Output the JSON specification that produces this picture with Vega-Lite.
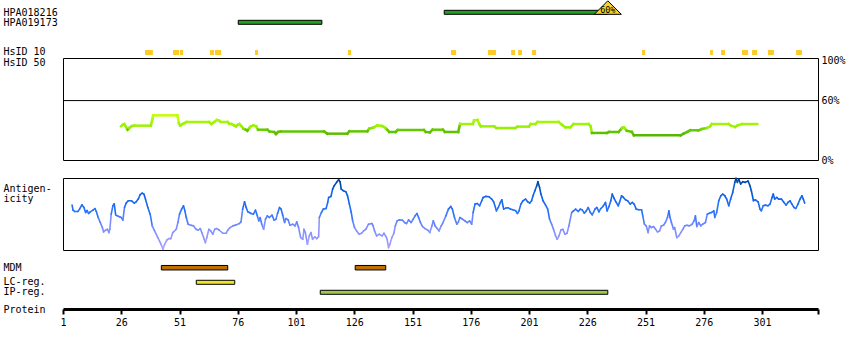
{
"$schema":"https://vega.github.io/schema/vega-lite/v6.json",
"padding":0,
"bounds":"full",
"spacing":11,
"config":{"view":{"stroke":null},"font":"DejaVu Sans Mono",
 "axis":{"labelFont":"DejaVu Sans Mono","labelFontSize":10,"labelColor":"black","titleFont":"DejaVu Sans Mono","titleFontSize":10,"titleFontWeight":"normal","titleColor":"black","grid":false},
 "axisY":{"ticks":false,"domain":false,"tickSize":0,"labelAlign":"left","labelPadding":60,"labelBaseline":"middle","minExtent":62,"maxExtent":62}},
"datasets":{
 "antibodies":[{"antibody":"HPA018216","start":164.6,"end":234.8},{"antibody":"HPA019173","start":76.2,"end":112.1}],
 "ab_marker":[{"antibody":"HPA018216","pos":234.8,"label":"60%"}],
 "hsid10":[{"track":"HsID 10","start":36.2,"end":39.6},{"track":"HsID 10","start":48.2,"end":50.8},{"track":"HsID 10","start":51.2,"end":52.5},{"track":"HsID 10","start":64.1,"end":65.8},{"track":"HsID 10","start":66.2,"end":68.8},{"track":"HsID 10","start":83.4,"end":84.7},{"track":"HsID 10","start":123.3,"end":124.6},{"track":"HsID 10","start":167.5,"end":169.7},{"track":"HsID 10","start":183.4,"end":186.8},{"track":"HsID 10","start":193.3,"end":195.0},{"track":"HsID 10","start":196.3,"end":198.0},{"track":"HsID 10","start":202.3,"end":204.0},{"track":"HsID 10","start":249.5,"end":250.8},{"track":"HsID 10","start":278.7,"end":279.9},{"track":"HsID 10","start":283.4,"end":285.1},{"track":"HsID 10","start":292.4,"end":295.0},{"track":"HsID 10","start":296.7,"end":298.9},{"track":"HsID 10","start":303.5,"end":306.1},{"track":"HsID 10","start":315.6,"end":318.1}],
 "ref60":[{"pct":60}],
 "hsid50":[{"pos":25.9,"pct":34.0},{"pos":26.7,"pct":35.7},{"pos":27.3,"pct":36.3},{"pos":27.9,"pct":34.0},{"pos":28.7,"pct":30.6},{"pos":29.4,"pct":32.3},{"pos":30.4,"pct":34.0},{"pos":31.6,"pct":34.7},{"pos":38.7,"pct":34.7},{"pos":39.3,"pct":40.7},{"pos":39.7,"pct":45.1},{"pos":50.1,"pct":45.1},{"pos":50.7,"pct":37.4},{"pos":51.3,"pct":34.7},{"pos":52.3,"pct":36.3},{"pos":53.3,"pct":37.4},{"pos":54.1,"pct":38.4},{"pos":63.7,"pct":38.4},{"pos":64.7,"pct":36.3},{"pos":65.9,"pct":38.4},{"pos":67.0,"pct":40.4},{"pos":68.0,"pct":39.7},{"pos":68.7,"pct":38.4},{"pos":71.6,"pct":38.4},{"pos":72.3,"pct":36.7},{"pos":73.3,"pct":36.3},{"pos":74.4,"pct":35.0},{"pos":75.3,"pct":34.0},{"pos":76.1,"pct":35.7},{"pos":76.7,"pct":36.3},{"pos":77.6,"pct":34.0},{"pos":78.4,"pct":31.6},{"pos":79.4,"pct":30.6},{"pos":80.1,"pct":29.6},{"pos":81.0,"pct":32.3},{"pos":81.6,"pct":34.0},{"pos":82.7,"pct":35.0},{"pos":83.9,"pct":34.0},{"pos":84.7,"pct":30.6},{"pos":88.7,"pct":30.6},{"pos":89.6,"pct":28.9},{"pos":91.6,"pct":28.3},{"pos":92.4,"pct":26.2},{"pos":93.3,"pct":28.3},{"pos":94.4,"pct":28.9},{"pos":113.0,"pct":28.9},{"pos":114.4,"pct":26.6},{"pos":123.0,"pct":26.6},{"pos":123.9,"pct":28.9},{"pos":131.6,"pct":28.9},{"pos":132.4,"pct":31.6},{"pos":134.4,"pct":33.0},{"pos":135.9,"pct":35.0},{"pos":138.0,"pct":34.3},{"pos":139.4,"pct":32.3},{"pos":140.1,"pct":30.6},{"pos":141.0,"pct":28.3},{"pos":143.7,"pct":28.3},{"pos":144.7,"pct":30.3},{"pos":155.9,"pct":30.3},{"pos":156.7,"pct":28.3},{"pos":158.4,"pct":27.9},{"pos":159.6,"pct":30.6},{"pos":164.0,"pct":30.6},{"pos":164.9,"pct":28.3},{"pos":170.6,"pct":28.3},{"pos":171.4,"pct":36.3},{"pos":176.9,"pct":36.3},{"pos":177.4,"pct":40.0},{"pos":178.9,"pct":40.4},{"pos":179.7,"pct":36.3},{"pos":180.3,"pct":34.0},{"pos":186.0,"pct":34.0},{"pos":186.9,"pct":32.3},{"pos":195.1,"pct":32.3},{"pos":196.0,"pct":33.7},{"pos":200.9,"pct":33.7},{"pos":201.7,"pct":36.3},{"pos":203.7,"pct":36.3},{"pos":204.6,"pct":38.4},{"pos":213.7,"pct":38.4},{"pos":215.1,"pct":35.7},{"pos":216.6,"pct":33.0},{"pos":218.7,"pct":33.0},{"pos":220.1,"pct":36.3},{"pos":226.6,"pct":36.3},{"pos":227.4,"pct":34.0},{"pos":228.0,"pct":27.3},{"pos":234.4,"pct":27.3},{"pos":235.4,"pct":28.3},{"pos":239.4,"pct":28.3},{"pos":240.3,"pct":30.6},{"pos":240.9,"pct":32.3},{"pos":241.7,"pct":33.0},{"pos":242.9,"pct":29.6},{"pos":245.1,"pct":28.3},{"pos":246.0,"pct":24.9},{"pos":266.0,"pct":24.9},{"pos":267.3,"pct":26.6},{"pos":268.9,"pct":28.3},{"pos":270.1,"pct":30.0},{"pos":273.7,"pct":30.0},{"pos":275.1,"pct":31.3},{"pos":277.3,"pct":32.3},{"pos":278.7,"pct":34.0},{"pos":279.4,"pct":36.3},{"pos":286.6,"pct":36.3},{"pos":287.4,"pct":35.0},{"pos":289.4,"pct":33.3},{"pos":290.6,"pct":35.0},{"pos":292.3,"pct":36.3},{"pos":298.9,"pct":36.3}],
 "antigenicity":[{"pos":4.9,"score":134},{"pos":5.3,"score":119},{"pos":6.0,"score":115},{"pos":7.4,"score":115},{"pos":8.1,"score":122},{"pos":9.1,"score":135},{"pos":10.0,"score":127},{"pos":10.7,"score":112},{"pos":11.3,"score":118},{"pos":12.0,"score":109},{"pos":12.7,"score":114},{"pos":13.9,"score":119},{"pos":14.7,"score":124},{"pos":15.3,"score":115},{"pos":16.1,"score":97},{"pos":17.0,"score":82},{"pos":17.9,"score":67},{"pos":18.4,"score":54},{"pos":19.3,"score":59},{"pos":20.1,"score":62},{"pos":20.7,"score":52},{"pos":21.1,"score":62},{"pos":21.7,"score":107},{"pos":22.4,"score":132},{"pos":23.0,"score":138},{"pos":23.6,"score":105},{"pos":24.3,"score":102},{"pos":25.3,"score":99},{"pos":26.0,"score":97},{"pos":26.7,"score":89},{"pos":27.4,"score":127},{"pos":28.1,"score":140},{"pos":29.0,"score":147},{"pos":30.4,"score":147},{"pos":31.6,"score":140},{"pos":32.4,"score":144},{"pos":33.3,"score":152},{"pos":34.1,"score":165},{"pos":35.0,"score":170},{"pos":35.7,"score":167},{"pos":36.4,"score":152},{"pos":37.4,"score":127},{"pos":38.4,"score":107},{"pos":39.3,"score":72},{"pos":40.3,"score":57},{"pos":41.7,"score":37},{"pos":43.1,"score":17},{"pos":43.9,"score":2},{"pos":44.6,"score":17},{"pos":45.6,"score":30},{"pos":46.4,"score":34},{"pos":47.3,"score":34},{"pos":48.1,"score":52},{"pos":49.6,"score":62},{"pos":50.3,"score":82},{"pos":51.0,"score":107},{"pos":51.9,"score":122},{"pos":52.7,"score":132},{"pos":53.3,"score":117},{"pos":53.9,"score":97},{"pos":54.7,"score":77},{"pos":55.9,"score":74},{"pos":57.0,"score":72},{"pos":58.1,"score":62},{"pos":59.0,"score":59},{"pos":59.9,"score":64},{"pos":60.7,"score":50},{"pos":61.6,"score":32},{"pos":62.1,"score":22},{"pos":62.7,"score":37},{"pos":63.6,"score":62},{"pos":64.4,"score":57},{"pos":65.3,"score":47},{"pos":66.1,"score":62},{"pos":67.0,"score":64},{"pos":68.1,"score":59},{"pos":69.6,"score":50},{"pos":71.0,"score":50},{"pos":71.7,"score":59},{"pos":72.7,"score":67},{"pos":73.9,"score":72},{"pos":75.3,"score":75},{"pos":76.7,"score":79},{"pos":77.4,"score":84},{"pos":78.1,"score":122},{"pos":78.9,"score":144},{"pos":79.6,"score":127},{"pos":80.3,"score":114},{"pos":81.0,"score":112},{"pos":81.7,"score":109},{"pos":82.7,"score":107},{"pos":83.6,"score":119},{"pos":84.4,"score":102},{"pos":85.0,"score":87},{"pos":85.6,"score":97},{"pos":86.3,"score":77},{"pos":87.1,"score":62},{"pos":87.9,"score":92},{"pos":88.7,"score":102},{"pos":89.6,"score":97},{"pos":90.7,"score":104},{"pos":91.6,"score":89},{"pos":92.4,"score":92},{"pos":93.1,"score":110},{"pos":93.9,"score":127},{"pos":94.6,"score":122},{"pos":95.3,"score":104},{"pos":96.1,"score":82},{"pos":96.7,"score":94},{"pos":97.6,"score":90},{"pos":98.4,"score":74},{"pos":99.6,"score":77},{"pos":100.6,"score":72},{"pos":101.3,"score":84},{"pos":102.1,"score":67},{"pos":103.0,"score":37},{"pos":103.9,"score":32},{"pos":104.4,"score":62},{"pos":105.0,"score":52},{"pos":105.9,"score":17},{"pos":106.7,"score":42},{"pos":107.4,"score":52},{"pos":108.1,"score":32},{"pos":109.0,"score":39},{"pos":109.9,"score":34},{"pos":110.7,"score":40},{"pos":111.0,"score":97},{"pos":111.9,"score":112},{"pos":112.7,"score":122},{"pos":113.9,"score":124},{"pos":114.6,"score":142},{"pos":115.0,"score":157},{"pos":116.0,"score":160},{"pos":116.7,"score":182},{"pos":117.4,"score":192},{"pos":118.4,"score":202},{"pos":119.3,"score":210},{"pos":119.9,"score":204},{"pos":120.4,"score":182},{"pos":121.3,"score":177},{"pos":122.4,"score":174},{"pos":123.1,"score":162},{"pos":123.9,"score":137},{"pos":124.7,"score":112},{"pos":125.3,"score":87},{"pos":126.1,"score":67},{"pos":127.0,"score":57},{"pos":128.1,"score":47},{"pos":129.1,"score":50},{"pos":130.0,"score":57},{"pos":131.0,"score":62},{"pos":132.1,"score":77},{"pos":133.6,"score":79},{"pos":134.1,"score":72},{"pos":134.7,"score":57},{"pos":135.6,"score":42},{"pos":136.7,"score":47},{"pos":137.9,"score":42},{"pos":138.7,"score":50},{"pos":139.6,"score":40},{"pos":140.1,"score":32},{"pos":140.7,"score":7},{"pos":141.3,"score":17},{"pos":142.1,"score":37},{"pos":143.0,"score":50},{"pos":143.6,"score":72},{"pos":144.4,"score":87},{"pos":145.3,"score":90},{"pos":146.7,"score":89},{"pos":147.6,"score":82},{"pos":148.4,"score":79},{"pos":149.3,"score":90},{"pos":150.4,"score":82},{"pos":151.3,"score":92},{"pos":152.1,"score":102},{"pos":152.9,"score":109},{"pos":153.6,"score":97},{"pos":154.4,"score":82},{"pos":155.3,"score":70},{"pos":156.4,"score":64},{"pos":157.6,"score":59},{"pos":158.4,"score":52},{"pos":159.3,"score":72},{"pos":159.9,"score":87},{"pos":160.7,"score":72},{"pos":161.6,"score":64},{"pos":162.4,"score":57},{"pos":163.3,"score":72},{"pos":163.9,"score":79},{"pos":165.3,"score":102},{"pos":166.4,"score":122},{"pos":167.4,"score":130},{"pos":168.1,"score":122},{"pos":169.0,"score":97},{"pos":170.0,"score":77},{"pos":170.7,"score":84},{"pos":171.3,"score":97},{"pos":172.4,"score":92},{"pos":173.5,"score":87},{"pos":174.5,"score":82},{"pos":175.5,"score":87},{"pos":176.4,"score":77},{"pos":177.0,"score":112},{"pos":177.8,"score":137},{"pos":178.8,"score":139},{"pos":179.8,"score":132},{"pos":180.7,"score":147},{"pos":181.3,"score":157},{"pos":182.4,"score":160},{"pos":183.8,"score":159},{"pos":185.0,"score":152},{"pos":185.8,"score":144},{"pos":187.0,"score":117},{"pos":187.8,"score":127},{"pos":188.7,"score":142},{"pos":189.3,"score":150},{"pos":190.1,"score":122},{"pos":191.0,"score":125},{"pos":192.1,"score":126},{"pos":193.0,"score":122},{"pos":194.1,"score":120},{"pos":195.3,"score":117},{"pos":196.0,"score":109},{"pos":196.7,"score":117},{"pos":197.5,"score":137},{"pos":198.4,"score":147},{"pos":199.5,"score":152},{"pos":200.4,"score":144},{"pos":201.3,"score":140},{"pos":202.1,"score":147},{"pos":202.7,"score":162},{"pos":203.5,"score":177},{"pos":204.3,"score":192},{"pos":204.8,"score":204},{"pos":205.5,"score":187},{"pos":206.1,"score":167},{"pos":207.0,"score":147},{"pos":208.1,"score":134},{"pos":209.0,"score":122},{"pos":209.8,"score":92},{"pos":210.7,"score":77},{"pos":211.5,"score":62},{"pos":212.4,"score":42},{"pos":213.1,"score":32},{"pos":213.8,"score":42},{"pos":214.7,"score":60},{"pos":215.5,"score":62},{"pos":216.4,"score":47},{"pos":217.3,"score":50},{"pos":218.1,"score":72},{"pos":219.3,"score":112},{"pos":220.1,"score":117},{"pos":221.0,"score":122},{"pos":222.1,"score":115},{"pos":223.0,"score":122},{"pos":223.8,"score":120},{"pos":224.7,"score":110},{"pos":225.5,"score":116},{"pos":226.4,"score":127},{"pos":227.3,"score":112},{"pos":228.1,"score":105},{"pos":229.3,"score":122},{"pos":230.1,"score":127},{"pos":231.0,"score":114},{"pos":231.8,"score":124},{"pos":232.7,"score":130},{"pos":233.8,"score":142},{"pos":234.5,"score":117},{"pos":235.3,"score":130},{"pos":236.1,"score":147},{"pos":236.7,"score":167},{"pos":237.5,"score":154},{"pos":238.4,"score":142},{"pos":239.3,"score":132},{"pos":239.8,"score":142},{"pos":240.7,"score":162},{"pos":241.5,"score":157},{"pos":242.4,"score":150},{"pos":243.3,"score":147},{"pos":244.4,"score":137},{"pos":245.3,"score":142},{"pos":246.1,"score":137},{"pos":247.0,"score":122},{"pos":248.1,"score":120},{"pos":249.3,"score":120},{"pos":249.8,"score":102},{"pos":250.5,"score":77},{"pos":251.3,"score":72},{"pos":252.1,"score":52},{"pos":252.7,"score":72},{"pos":253.5,"score":67},{"pos":254.4,"score":70},{"pos":255.3,"score":62},{"pos":256.1,"score":54},{"pos":257.0,"score":57},{"pos":257.8,"score":72},{"pos":258.7,"score":74},{"pos":259.5,"score":82},{"pos":260.4,"score":97},{"pos":261.0,"score":117},{"pos":261.5,"score":97},{"pos":262.1,"score":82},{"pos":263.0,"score":62},{"pos":263.5,"score":67},{"pos":264.4,"score":37},{"pos":265.3,"score":42},{"pos":266.1,"score":52},{"pos":267.0,"score":62},{"pos":267.8,"score":72},{"pos":268.8,"score":74},{"pos":269.8,"score":72},{"pos":271.0,"score":77},{"pos":271.8,"score":87},{"pos":272.4,"score":102},{"pos":273.0,"score":70},{"pos":273.8,"score":82},{"pos":274.7,"score":72},{"pos":275.5,"score":77},{"pos":276.7,"score":82},{"pos":277.5,"score":107},{"pos":278.4,"score":110},{"pos":279.3,"score":112},{"pos":280.3,"score":117},{"pos":280.7,"score":97},{"pos":281.5,"score":112},{"pos":282.4,"score":147},{"pos":283.3,"score":162},{"pos":284.1,"score":167},{"pos":285.0,"score":162},{"pos":285.8,"score":152},{"pos":286.7,"score":132},{"pos":287.5,"score":152},{"pos":288.4,"score":172},{"pos":289.3,"score":202},{"pos":289.8,"score":214},{"pos":290.4,"score":202},{"pos":291.0,"score":212},{"pos":291.8,"score":197},{"pos":292.7,"score":204},{"pos":293.8,"score":202},{"pos":295.0,"score":206},{"pos":295.8,"score":192},{"pos":296.4,"score":177},{"pos":297.3,"score":147},{"pos":298.1,"score":150},{"pos":299.3,"score":144},{"pos":300.1,"score":122},{"pos":300.7,"score":117},{"pos":301.5,"score":132},{"pos":302.4,"score":134},{"pos":303.5,"score":132},{"pos":304.4,"score":137},{"pos":305.3,"score":157},{"pos":305.8,"score":167},{"pos":306.4,"score":152},{"pos":307.3,"score":157},{"pos":308.1,"score":152},{"pos":309.3,"score":152},{"pos":310.4,"score":142},{"pos":311.3,"score":134},{"pos":312.1,"score":142},{"pos":313.0,"score":147},{"pos":313.8,"score":137},{"pos":314.7,"score":127},{"pos":315.5,"score":124},{"pos":316.4,"score":137},{"pos":317.3,"score":152},{"pos":318.1,"score":162},{"pos":318.7,"score":152},{"pos":319.3,"score":140}],
 "mdm":[{"track":"MDM","start":43.2,"end":71.7},{"track":"MDM","start":126.4,"end":139.5}],
 "regions":[{"track":"LC-reg.","start":58.2,"end":74.7},{"track":"IP-reg.","start":111.4,"end":234.8}]
},
"vconcat":[
 {"spacing":0,"bounds":"flush","vconcat":[
  {"width":755,"height":30,
   "layer":[
    {"data":{"name":"antibodies"},"mark":{"type":"bar","height":4,"color":"#20a020","stroke":"black","strokeWidth":1},
     "encoding":{
      "x":{"field":"start","type":"quantitative","scale":{"domain":[1,325],"nice":false,"zero":false},"axis":null},
      "x2":{"field":"end"},
      "y":{"field":"antibody","type":"nominal","scale":{"domain":["HPA018216","HPA019173"],"paddingInner":0,"paddingOuter":0.5,"align":0.73},"axis":{"title":null,"labelOffset":0.5}}}},
    {"data":{"name":"ab_marker"},"mark":{"type":"point","shape":"M-2,0.3L0,-1.7L2,0.3Z","size":182.25,"filled":true,"color":"#f5d327","stroke":"black","strokeWidth":1,"strokeJoin":"round","opacity":1},
     "encoding":{"x":{"field":"pos","type":"quantitative"},"y":{"field":"antibody","type":"nominal"}}},
    {"data":{"name":"ab_marker"},"mark":{"type":"text","fontSize":8.5,"font":"DejaVu Sans Mono","dy":-2.5,"color":"black"},
     "encoding":{"x":{"field":"pos","type":"quantitative"},"y":{"field":"antibody","type":"nominal"},"text":{"field":"label"}}}
   ]},
  {"width":755,"height":28,"data":{"name":"hsid10"},"mark":{"type":"bar","height":5,"color":"#ffc926"},
   "encoding":{
    "x":{"field":"start","type":"quantitative","scale":{"domain":[1,325],"nice":false,"zero":false},"axis":null},
    "x2":{"field":"end"},
    "y":{"field":"track","type":"nominal","scale":{"domain":["HsID 10"],"paddingInner":0,"paddingOuter":0.9,"align":0.972},"axis":{"title":null}}}},
  {"width":755,"height":102,"view":{"stroke":"black","strokeWidth":1},
   "layer":[
    {"data":{"name":"ref60"},"mark":{"type":"rule","color":"black","strokeWidth":1},
     "encoding":{"y":{"field":"pct","type":"quantitative","scale":{"domain":[0,103],"nice":false},
       "axis":{"orient":"left","title":"HsID 50","titleAngle":0,"titleAlign":"left","titleBaseline":"middle","titleX":-60,"titleY":4.7,"labels":false}}}},
    {"data":{"name":"hsid50"},
     "transform":[{"window":[{"op":"lead","field":"pos","as":"pos2"},{"op":"lead","field":"pct","as":"pct2"}],"sort":[{"field":"pos","order":"ascending"}]},{"filter":"isValid(datum.pos2)"}],
     "mark":{"type":"rule","strokeWidth":2.5,"strokeCap":"square"},
     "encoding":{
      "x":{"field":"pos","type":"quantitative","scale":{"domain":[1,325],"nice":false,"zero":false},"axis":null},
      "x2":{"field":"pos2"},
      "y":{"field":"pct","type":"quantitative","scale":{"domain":[0,103],"nice":false},
        "axis":{"orient":"right","title":null,"values":[0,60,100],"labelExpr":"datum.value + '%'","labelPadding":3,"labelAlign":"left","minExtent":0,"maxExtent":33}},
      "y2":{"field":"pct2"},
      "color":{"field":"pct","type":"quantitative","scale":{"domain":[28,31,32,38,45],"range":["#5ec200","#66cc00","#96f000","#a2f50a","#c4ff00"]},"legend":null}}}
   ],
   "resolve":{"axis":{"y":"independent"}}}
 ]},
 {"spacing":0,"bounds":"flush","vconcat":[
  {"width":755,"height":72,"view":{"stroke":"black","strokeWidth":1},"data":{"name":"antigenicity"},
   "transform":[{"window":[{"op":"lead","field":"pos","as":"pos2"},{"op":"lead","field":"score","as":"score2"}],"sort":[{"field":"pos","order":"ascending"}]},{"filter":"isValid(datum.pos2)"}],
   "mark":{"type":"rule","strokeWidth":1.6,"strokeCap":"round"},
   "encoding":{
    "x":{"field":"pos","type":"quantitative","scale":{"domain":[1,325],"nice":false,"zero":false},"axis":null},
    "x2":{"field":"pos2"},
    "y":{"field":"score","type":"quantitative","scale":{"domain":[0,215],"nice":false},
      "axis":{"title":["Antigen-","icity"],"titleAngle":0,"titleAlign":"left","titleBaseline":"middle","titleX":-60,"titleY":10,"titleLineHeight":10,"labels":false}},
    "y2":{"field":"score2"},
    "color":{"field":"score","type":"quantitative","scale":{"domain":[0,60,110,170,215],"range":["#b0a0ff","#8090ff","#2a74ff","#0a60e8","#003f90"]},"legend":null}}},
  {"width":755,"height":25,"data":{"name":"mdm"},"mark":{"type":"bar","height":4.5,"color":"#c07000","stroke":"black","strokeWidth":1},
   "encoding":{
    "x":{"field":"start","type":"quantitative","scale":{"domain":[1,325],"nice":false,"zero":false},"axis":null},
    "x2":{"field":"end"},
    "y":{"field":"track","type":"nominal","scale":{"domain":["MDM"],"paddingInner":0,"paddingOuter":0.75,"align":0.847},"axis":{"title":null}}}},
  {"width":755,"height":34,"data":{"name":"regions"},"mark":{"type":"bar","height":4,"stroke":"black","strokeWidth":1},
   "encoding":{
    "x":{"field":"start","type":"quantitative","scale":{"domain":[1,325],"nice":false,"zero":false},
      "axis":{"orient":"bottom","values":[1,26,51,76,101,126,151,176,201,226,251,276,301,325],"labelExpr":"datum.value > 310 ? '' : datum.label","labelFlush":false,"labelOverlap":false,"domain":true,"domainColor":"black","domainWidth":3,"ticks":true,"tickColor":"black","tickWidth":2,"tickSize":5,"labelPadding":3,"title":"Protein","titleX":-60,"titleY":0,"titleAlign":"left","titleBaseline":"middle","titleAngle":0}},
    "x2":{"field":"end"},
    "y":{"field":"track","type":"nominal","scale":{"domain":["LC-reg.","IP-reg."],"paddingInner":0,"paddingOuter":0.7,"align":0.164},"axis":{"title":null}},
    "color":{"field":"track","type":"nominal","scale":{"domain":["LC-reg.","IP-reg."],"range":["#f2e42a","#9fc94b"]},"legend":null}}}
 ]}
]
}
